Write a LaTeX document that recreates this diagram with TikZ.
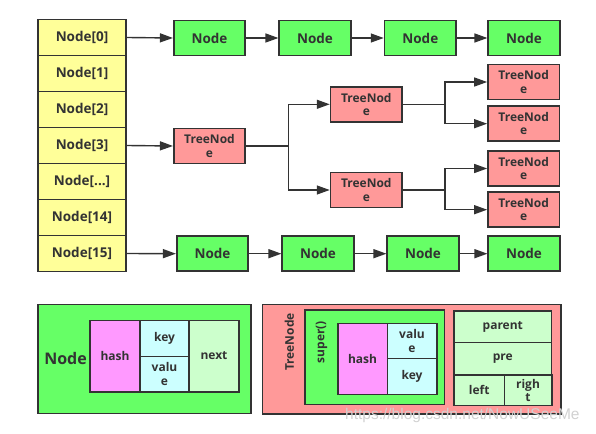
\documentclass[tikz,border=0pt]{standalone}
\usepackage{fontspec}
\setmainfont{Open Sans}
\newfontfamily\wmfont{Liberation Sans}
\usetikzlibrary{arrows.meta}
\definecolor{ink}{HTML}{333333}
\definecolor{arrY}{HTML}{FFFF99}
\definecolor{nodeG}{HTML}{66FF66}
\definecolor{treeR}{HTML}{FF9999}
\definecolor{hashM}{HTML}{FF99FF}
\definecolor{kvC}{HTML}{CCFFFF}
\definecolor{ptrG}{HTML}{CCFFCC}
\tikzset{
  box/.style={draw=ink, line width=1.6pt, inner sep=0pt, align=center, text=ink,
    font=\bfseries\fontsize{13.5}{15}\selectfont},
  sz/.style n args={2}{minimum width=#1pt, minimum height=#2pt},
  cellarr/.style={box, fill=arrY, sz={88.5}{36}},
  nd/.style={box, fill=nodeG, sz={71.5}{35}},
  tn/.style={box, fill=treeR, sz={71.5}{35}, font=\bfseries\fontsize{12}{13.5}\selectfont},
  small/.style={font=\bfseries\fontsize{12}{13.5}\selectfont},
  arr/.style={draw=ink, line width=1.4pt, -{Triangle[length=13pt,width=9pt]}},
  ln/.style={draw=ink, line width=1.4pt},
}
\begin{document}
\begin{tikzpicture}[x=1pt,y=-1pt]
\useasboundingbox (0,0) rectangle (596,433);
% array
\node[cellarr] (a0) at (82,37.5) {Node[0]};
\node[cellarr] (a1) at (82,73.5) {Node[1]};
\node[cellarr] (a2) at (82,109.5) {Node[2]};
\node[cellarr] (a3) at (82,145.5) {Node[3]};
\node[cellarr] (a4) at (82,181.5) {Node[...]};
\node[cellarr] (a5) at (82,217.5) {Node[14]};
\node[cellarr] (a6) at (82,253.5) {Node[15]};
% top chain
\node[nd] (t1) at (209.5,38) {Node};
\node[nd] (t2) at (315,38) {Node};
\node[nd] (t3) at (420.3,38) {Node};
\node[nd] (t4) at (524,38) {Node};
\draw[arr] (a0.east) -- (t1.west);
\draw[arr] (t1) -- (t2);
\draw[arr] (t2) -- (t3);
\draw[arr] (t3) -- (t4);
% bottom chain
\node[nd] (b1) at (212.5,253.7) {Node};
\node[nd] (b2) at (318,253.7) {Node};
\node[nd] (b3) at (423,253.7) {Node};
\node[nd] (b4) at (524,253.7) {Node};
\draw[arr] (a6.east) -- (b1.west);
\draw[arr] (b1) -- (b2);
\draw[arr] (b2) -- (b3);
\draw[arr] (b3) -- (b4);
% tree
\node[tn] (r) at (209.5,146) {TreeNod\\e};
\node[tn] (l1) at (366.3,104.3) {TreeNod\\e};
\node[tn] (l2) at (366.3,190) {TreeNod\\e};
\node[tn] (f1) at (523.7,82) {TreeNod\\e};
\node[tn] (f2) at (523.7,123.7) {TreeNod\\e};
\node[tn] (f3) at (523.7,168.5) {TreeNod\\e};
\node[tn] (f4) at (523.7,209.7) {TreeNod\\e};
\draw[arr] (a3.east) -- (r.west);
\coordinate (br0) at (288.3,146);
\coordinate (br1) at (445,104.3);
\coordinate (br2) at (445,190);
\draw[ln] (r.east) -- (br0);
\draw[arr] (br0) |- (l1.west);
\draw[arr] (br0) |- (l2.west);
\draw[ln] (l1.east) -- (br1);
\draw[arr] (br1) |- (f1.west);
\draw[arr] (br1) |- (f2.west);
\draw[ln] (l2.east) -- (br2);
\draw[arr] (br2) |- (f3.west);
\draw[arr] (br2) |- (f4.west);
% legend: Node
\node[box, fill=nodeG, sz={213}{109}] (ln0) at (144.2,358.8) {};
\node[text=ink, font=\bfseries\fontsize{16}{18}\selectfont] (lnlab) at (65.5,358) {Node};
\node[box, small, fill=hashM, sz={50}{71.4}] (lnh) at (115,356) {hash};
\node[box, small, fill=kvC, sz={49}{36}] (lnk) at (164.5,338.3) {key};
\node[box, small, fill=kvC, sz={49}{35.4}] (lnv) at (164.5,374) {valu\\e};
\node[box, small, fill=ptrG, sz={50}{71.4}] (lnn) at (214,356) {next};
% legend: TreeNode
\node[box, fill=treeR, sz={298.4}{109.7}] (lt0) at (411.5,359.2) {};
\node[text=ink, small, rotate=90] (ltlab) at (289.3,342) {TreeNode};
\node[box, fill=nodeG, sz={139.3}{94.3}] (lts) at (374.7,357.2) {};
\node[text=ink, small, rotate=90] (ltslab) at (321.5,342) {super()};
\node[box, small, fill=hashM, sz={49.6}{71}] (lth) at (362.5,358.8) {hash};
\node[box, small, fill=kvC, sz={49.4}{35}] (ltv) at (412,340.8) {valu\\e};
\node[box, small, fill=kvC, sz={49.4}{36}] (ltk) at (412,376.3) {key};
\node[box, small, fill=ptrG, sz={97.7}{32}] (ltp) at (502.8,326.7) {parent};
\node[box, small, fill=ptrG, sz={97.7}{32.3}] (ltpre) at (502.8,358.8) {pre};
\node[box, small, fill=ptrG, sz={50.3}{30.7}] (ltl) at (479.2,390.3) {left};
\node[box, small, fill=ptrG, sz={47.4}{30.7}] (ltr) at (528,390.3) {righ\\t};
% watermark
\node[anchor=base west, inner sep=0pt, text=black!18, font=\wmfont\fontsize{15.5}{17}\selectfont] (wm) at (345,419) {https://blog.csdn.net/NowUSeeMe};
\end{tikzpicture}
\end{document}
